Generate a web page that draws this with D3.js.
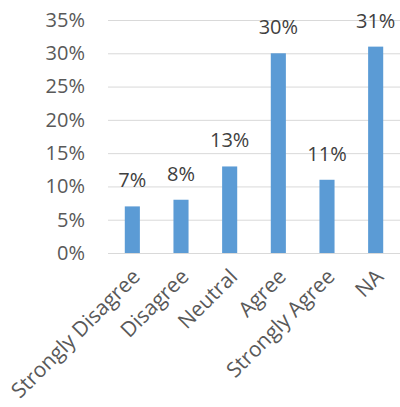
<!DOCTYPE html>
<html><head><meta charset="utf-8">
<script src="https://cdn.jsdelivr.net/npm/d3@7"></script>
<style>body{margin:0;background:#fff;} svg{display:block;}</style>
</head><body>
<svg id="c" width="400" height="407"></svg>
<script>
const categories = ["Strongly Disagree","Disagree","Neutral","Agree","Strongly Agree","NA"];
const values = [0.07,0.08,0.13,0.30,0.11,0.31];
const yTicks = [0,0.05,0.10,0.15,0.20,0.25,0.30,0.35];

const svg = d3.select("#c");
const font = "'Open Sans', sans-serif";
const m = {left:108, right:0, top:20, bottom:154};
const W = 400, H = 407;
const x = d3.scaleBand().domain(categories).range([m.left, W - m.right]).paddingInner(0.69).paddingOuter(0.345);
const y = d3.scaleLinear().domain([0,0.35]).range([H - m.bottom, m.top]);
const fmt = d3.format(".0%");

const yAxis = svg.append("g").attr("transform",`translate(${m.left},0)`)
  .call(d3.axisLeft(y).tickValues(yTicks).tickFormat(fmt).tickSize(-(W - m.left - m.right)).tickPadding(23));
yAxis.select(".domain").remove();
yAxis.selectAll(".tick line").attr("stroke","#d9d9d9").attr("stroke-width",1);
yAxis.selectAll(".tick text").attr("fill","#595959").style("font-family",font).style("font-size","20px");

svg.append("g").selectAll("rect").data(values).join("rect")
  .attr("x",(d,i)=>x(categories[i])).attr("width",x.bandwidth())
  .attr("y",d=>y(d)).attr("height",d=>y(0)-y(d)).attr("fill","#5b9bd5");

svg.append("g").selectAll("text").data(values).join("text")
  .attr("x",(d,i)=>x(categories[i])+x.bandwidth()/2).attr("y",d=>y(d)-19)
  .attr("text-anchor","middle").attr("fill","#404040")
  .style("font-family",font).style("font-size","20px").text(d=>fmt(d));

const xAxis = svg.append("g").attr("transform",`translate(0,${y(0)})`)
  .call(d3.axisBottom(x).tickSize(0).tickPadding(0));
xAxis.select(".domain").attr("stroke","#d9d9d9");
xAxis.selectAll(".tick text").attr("fill","#595959").style("font-family",font).style("font-size","21px")
  .attr("text-anchor","end").attr("dy",null).attr("y",0)
  .attr("transform","translate(9,25) rotate(-45)");
</script>
</body></html>
